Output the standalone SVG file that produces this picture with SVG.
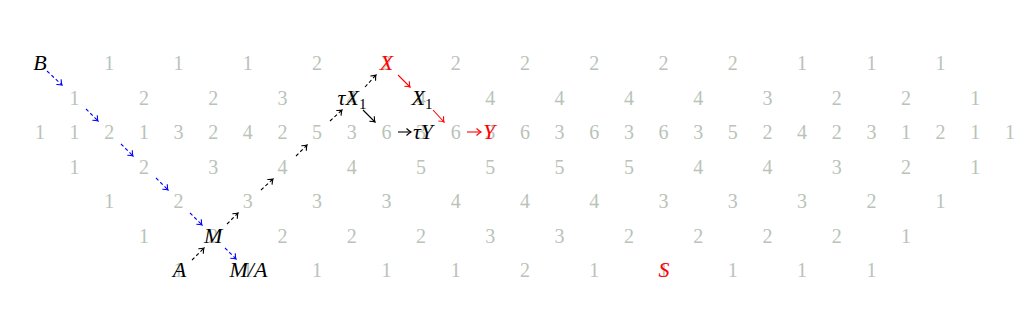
<svg xmlns="http://www.w3.org/2000/svg" width="1030" height="314" viewBox="0 0 1030 314">
<style>
.d{font-family:"Liberation Serif","Times New Roman",serif;font-size:20px;fill:#b9c3b9;text-anchor:middle}
.l{font-family:"Liberation Serif","Times New Roman",serif;font-size:22px;font-style:italic;fill:#000;text-anchor:middle}
.r{fill:#ff0000}
.sub{font-style:normal;font-size:15px}
.a{fill:none;stroke-width:1.1}
.dash{stroke-dasharray:3.5 2.5}
.bl{stroke:#0000ff}
.bk{stroke:#000}
.rd{stroke:#ff0000}
</style>
<defs>
<marker id="hb" markerUnits="userSpaceOnUse" markerWidth="10" markerHeight="10" refX="0" refY="0" viewBox="-6 -5 8 10" orient="auto"><path d="M-4.5,-3.5 Q-1.5,-0.6 0,0 Q-1.5,0.6 -4.5,3.5" fill="none" stroke="#0000ff" stroke-width="1.1"/></marker>
<marker id="hk" markerUnits="userSpaceOnUse" markerWidth="10" markerHeight="10" refX="0" refY="0" viewBox="-6 -5 8 10" orient="auto"><path d="M-4.5,-3.5 Q-1.5,-0.6 0,0 Q-1.5,0.6 -4.5,3.5" fill="none" stroke="#000" stroke-width="1.1"/></marker>
<marker id="hr" markerUnits="userSpaceOnUse" markerWidth="10" markerHeight="10" refX="0" refY="0" viewBox="-6 -5 8 10" orient="auto"><path d="M-4.5,-3.5 Q-1.5,-0.6 0,0 Q-1.5,0.6 -4.5,3.5" fill="none" stroke="#ff0000" stroke-width="1.1"/></marker>
</defs>
<rect width="1030" height="314" fill="#fff"/>
<g id="frieze">
<text class="d" x="109.3" y="70">1</text><text class="d" x="178.6" y="70">1</text><text class="d" x="247.8" y="70">1</text><text class="d" x="317.1" y="70">2</text><text class="d" x="386.4" y="70">2</text><text class="d" x="455.7" y="70">2</text><text class="d" x="525" y="70">2</text><text class="d" x="594.2" y="70">2</text><text class="d" x="663.5" y="70">2</text><text class="d" x="732.8" y="70">2</text><text class="d" x="802.1" y="70">1</text><text class="d" x="871.4" y="70">1</text><text class="d" x="940.6" y="70">1</text>
<text class="d" x="74.6" y="104.5">1</text><text class="d" x="143.9" y="104.5">2</text><text class="d" x="213.2" y="104.5">2</text><text class="d" x="282.5" y="104.5">3</text><text class="d" x="351.8" y="104.5">4</text><text class="d" x="421" y="104.5">4</text><text class="d" x="490.3" y="104.5">4</text><text class="d" x="559.6" y="104.5">4</text><text class="d" x="628.9" y="104.5">4</text><text class="d" x="698.2" y="104.5">4</text><text class="d" x="767.4" y="104.5">3</text><text class="d" x="836.7" y="104.5">2</text><text class="d" x="906" y="104.5">2</text><text class="d" x="975.3" y="104.5">1</text>
<text class="d" x="40" y="139">1</text><text class="d" x="74.6" y="139">1</text><text class="d" x="109.3" y="139">2</text><text class="d" x="143.9" y="139">1</text><text class="d" x="178.6" y="139">3</text><text class="d" x="213.2" y="139">2</text><text class="d" x="247.8" y="139">4</text><text class="d" x="282.5" y="139">2</text><text class="d" x="317.1" y="139">5</text><text class="d" x="351.8" y="139">3</text><text class="d" x="386.4" y="139">6</text><text class="d" x="421" y="139">3</text><text class="d" x="455.7" y="139">6</text><text class="d" x="490.3" y="139">3</text><text class="d" x="525" y="139">6</text><text class="d" x="559.6" y="139">3</text><text class="d" x="594.2" y="139">6</text><text class="d" x="628.9" y="139">3</text><text class="d" x="663.5" y="139">6</text><text class="d" x="698.2" y="139">3</text><text class="d" x="732.8" y="139">5</text><text class="d" x="767.4" y="139">2</text><text class="d" x="802.1" y="139">4</text><text class="d" x="836.7" y="139">2</text><text class="d" x="871.4" y="139">3</text><text class="d" x="906" y="139">1</text><text class="d" x="940.6" y="139">2</text><text class="d" x="975.3" y="139">1</text><text class="d" x="1009.9" y="139">1</text>
<text class="d" x="74.6" y="173.5">1</text><text class="d" x="143.9" y="173.5">2</text><text class="d" x="213.2" y="173.5">3</text><text class="d" x="282.5" y="173.5">4</text><text class="d" x="351.8" y="173.5">4</text><text class="d" x="421" y="173.5">5</text><text class="d" x="490.3" y="173.5">5</text><text class="d" x="559.6" y="173.5">5</text><text class="d" x="628.9" y="173.5">5</text><text class="d" x="698.2" y="173.5">4</text><text class="d" x="767.4" y="173.5">4</text><text class="d" x="836.7" y="173.5">3</text><text class="d" x="906" y="173.5">2</text><text class="d" x="975.3" y="173.5">1</text>
<text class="d" x="109.3" y="208">1</text><text class="d" x="178.6" y="208">2</text><text class="d" x="247.8" y="208">3</text><text class="d" x="317.1" y="208">3</text><text class="d" x="386.4" y="208">3</text><text class="d" x="455.7" y="208">4</text><text class="d" x="525" y="208">4</text><text class="d" x="594.2" y="208">4</text><text class="d" x="663.5" y="208">3</text><text class="d" x="732.8" y="208">3</text><text class="d" x="802.1" y="208">3</text><text class="d" x="871.4" y="208">2</text><text class="d" x="940.6" y="208">1</text>
<text class="d" x="143.9" y="242.5">1</text><text class="d" x="213.2" y="242.5">2</text><text class="d" x="282.5" y="242.5">2</text><text class="d" x="351.8" y="242.5">2</text><text class="d" x="421" y="242.5">2</text><text class="d" x="490.3" y="242.5">3</text><text class="d" x="559.6" y="242.5">3</text><text class="d" x="628.9" y="242.5">2</text><text class="d" x="698.2" y="242.5">2</text><text class="d" x="767.4" y="242.5">2</text><text class="d" x="836.7" y="242.5">2</text><text class="d" x="906" y="242.5">1</text>
<text class="d" x="178.6" y="277">1</text><text class="d" x="247.8" y="277">1</text><text class="d" x="317.1" y="277">1</text><text class="d" x="386.4" y="277">1</text><text class="d" x="455.7" y="277">1</text><text class="d" x="525" y="277">2</text><text class="d" x="594.2" y="277">1</text><text class="d" x="663.5" y="277">1</text><text class="d" x="732.8" y="277">1</text><text class="d" x="802.1" y="277">1</text><text class="d" x="871.4" y="277">1</text>
</g>
<g id="connectors">
<line class="a dash bl" x1="47" y1="71" x2="62" y2="85" marker-end="url(#hb)"/>
<line class="a dash bl" x1="86" y1="109" x2="98" y2="121" marker-end="url(#hb)"/>
<line class="a dash bl" x1="121" y1="144" x2="133" y2="156" marker-end="url(#hb)"/>
<line class="a dash bl" x1="156" y1="178" x2="168" y2="190" marker-end="url(#hb)"/>
<line class="a dash bl" x1="190" y1="213" x2="202" y2="225" marker-end="url(#hb)"/>
<line class="a dash bl" x1="225" y1="248" x2="236" y2="259" marker-end="url(#hb)"/>
<line class="a dash bk" x1="192" y1="260" x2="204" y2="248" marker-end="url(#hk)"/>
<line class="a dash bk" x1="227" y1="224" x2="238" y2="213" marker-end="url(#hk)"/>
<line class="a dash bk" x1="261" y1="190" x2="273" y2="179" marker-end="url(#hk)"/>
<line class="a dash bk" x1="296" y1="156" x2="307" y2="145" marker-end="url(#hk)"/>
<line class="a dash bk" x1="330" y1="121" x2="342" y2="110" marker-end="url(#hk)"/>
<line class="a dash bk" x1="365" y1="87" x2="376" y2="75" marker-end="url(#hk)"/>
<line class="a bk" x1="363" y1="110" x2="375" y2="122" marker-end="url(#hk)"/>
<line class="a bk" x1="398" y1="132" x2="411" y2="132" marker-end="url(#hk)"/>
<line class="a rd" x1="398" y1="75" x2="410" y2="87" marker-end="url(#hr)"/>
<line class="a rd" x1="433" y1="110" x2="444" y2="122" marker-end="url(#hr)"/>
<line class="a rd" x1="467" y1="132" x2="481" y2="132" marker-end="url(#hr)"/>
</g>
<g id="node-B"><text class="l" x="40" y="70">B</text></g>
<g id="node-X"><text class="l r" x="386.4" y="70">X</text></g>
<g id="node-tauX1"><text class="l" x="352" y="104.5">τX<tspan class="sub" dy="4">1</tspan></text></g>
<g id="node-X1"><text class="l" x="422" y="104.5">X<tspan class="sub" dy="4">1</tspan></text></g>
<g id="node-tauY"><text class="l" x="423" y="139">τY</text></g>
<g id="node-Y"><text class="l r" x="489" y="139">Y</text></g>
<g id="node-M"><text class="l" x="213.2" y="242.5">M</text></g>
<g id="node-A"><text class="l" x="179.5" y="277">A</text></g>
<g id="node-MA"><text class="l" x="248.5" y="277">M/A</text></g>
<g id="node-S"><text class="l r" x="664" y="277">S</text></g>
</svg>
